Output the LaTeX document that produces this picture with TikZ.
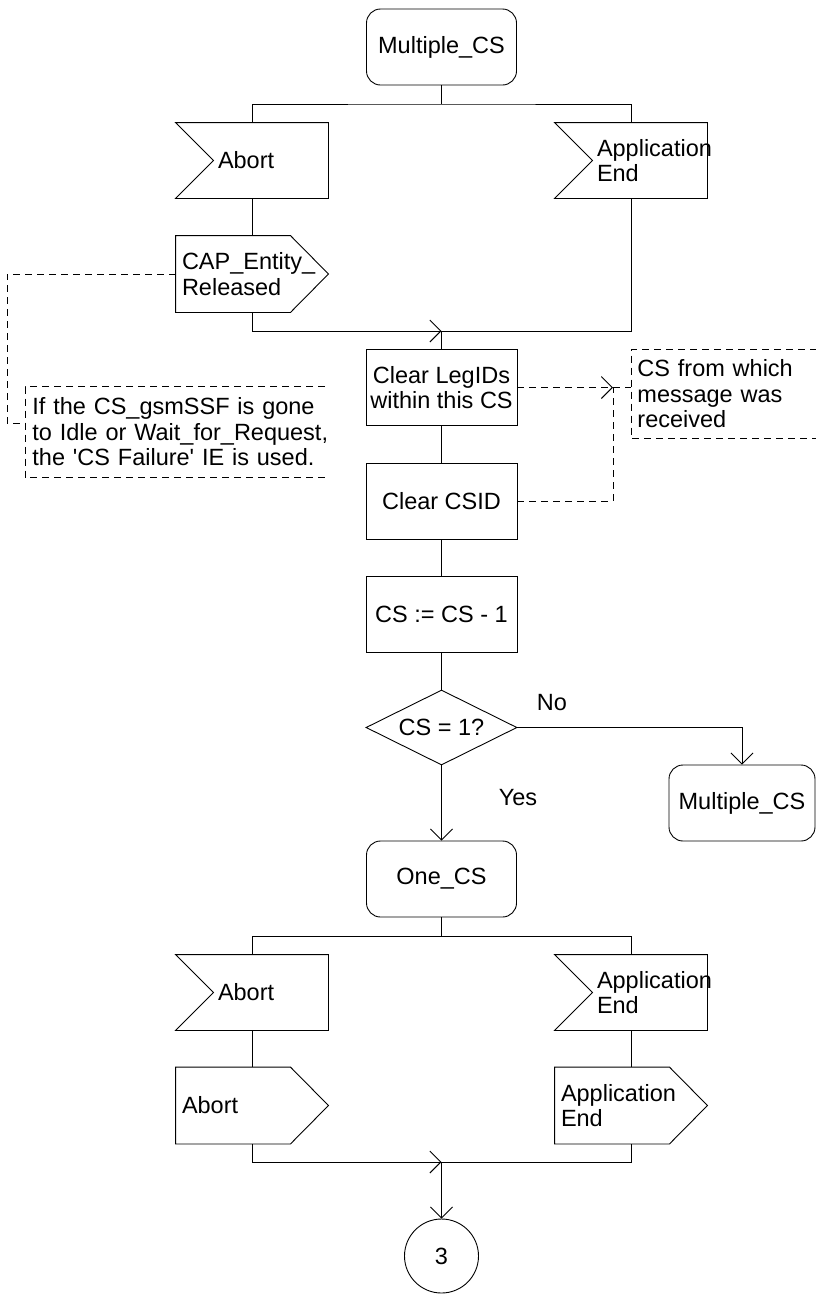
\documentclass[tikz,border=0pt]{standalone}
\usepackage{fontspec}
\setmainfont{Liberation Sans}[Ligatures=TeXOff]
\usetikzlibrary{arrows.meta,shapes.geometric}
\hyphenpenalty=10000
\tikzset{
	arr/.style={-{Straight Barb[length=11pt,width=22pt]}},
	cmtline/.style={dash pattern=on 7pt off 5pt},
	statebox/.style={draw, rounded corners=14pt, minimum width=150pt, minimum height=76pt, inner sep=0pt},
	taskbox/.style={draw, minimum width=151pt, minimum height=76pt, inner sep=0pt, align=center},
	decbox/.style={draw, diamond, aspect=2, minimum width=151pt, minimum height=75pt, inner sep=0pt},
	inbox/.style={minimum width=152pt, minimum height=75pt, text width=152pt, inner sep=0pt, align=left, execute at begin node={\leftskip=42pt\relax}},
	outbox/.style={minimum width=152pt, minimum height=76pt, text width=152pt, inner sep=0pt, align=left, execute at begin node={\leftskip=6pt\relax}},
	cmt/.style={align=left, anchor=west, inner ysep=0pt}
}
\begin{document}
\begin{tikzpicture}[x=1pt, y=-1pt, line width=0.9pt, font=\fontsize{23.5}{25.5}\selectfont]
	\useasboundingbox (0,0) rectangle (816,1294);
	\node[statebox] (st1) at (441.5,47) {Multiple\_CS};
	\coordinate (f1) at (441.5,104);
	\node[inbox] (in1) at (252,160.5) {Abort};
	\node[inbox] (in2) at (631,160.5) {Application\\End};
	\node[outbox] (cap) at (252,274) {CAP\_Entity\_\\Released};
	\coordinate (m1) at (441.5,331);
	\node[taskbox] (leg) at (441.5,387.5) {Clear LegIDs\\within this CS};
	\node[taskbox] (csid) at (441.5,501) {Clear CSID};
	\node[taskbox] (dec) at (441.5,614) {CS := CS - 1};
	\node[decbox] (dia) at (441.5,727.5) {CS = 1?};
	\node (no) at (552,703) {No};
	\node (yes) at (518,798) {Yes};
	\node[statebox, minimum width=146pt] (st2) at (742,803) {Multiple\_CS};
	\node[statebox] (st3) at (441.5,879) {One\_CS};
	\coordinate (f2) at (441.5,936);
	\node[inbox] (in3) at (252,992.5) {Abort};
	\node[inbox] (in4) at (631,992.5) {Application\\End};
	\node[outbox] (out3) at (252,1105.5) {Abort};
	\node[outbox] (out4) at (631,1105.5) {Application\\End};
	\coordinate (m2) at (441.5,1162);
	\node[draw, circle, minimum size=74pt, inner sep=0pt] (con) at (441.5,1256) {3};
	\node[cmt, text width=320pt, inner xsep=7pt, minimum height=90pt] (c1) at (25,432) {If the CS\_gsmSSF is gone\\to Idle or Wait\_for\_Request,\\the 'CS Failure' IE is used.};
	\node[cmt, text width=173pt, inner xsep=6pt, minimum height=88pt] (c2) at (631,394) {CS from which\\message was\\received};
	\coordinate (a1) at (613,387.5);
	\foreach \n in {in1,in2,in3,in4} {
		\draw (\n.north west) -- (\n.north east) -- (\n.south east) -- (\n.south west) -- ([xshift=38pt]\n.west) -- cycle;
	};
	\foreach \n in {cap,out3,out4} {
		\draw (\n.north west) -- ([xshift=-38pt]\n.north east) -- (\n.east) -- ([xshift=-38pt]\n.south east) -- (\n.south west) -- cycle;
	};
	\draw (st1.south) -- (f1);
	\draw (in1.north) |- (f1) -| (in2.north);
	\draw (in1.south) -- (cap.north);
	\draw[arr] (cap.south) |- (m1);
	\draw (in2.south) |- (m1);
	\draw (m1) -- (leg.north);
	\draw (leg) -- (csid);
	\draw (csid) -- (dec);
	\draw (dec) -- (dia);
	\draw[arr] (dia.east) -| (st2.north);
	\draw[arr] (dia.south) -- (st3.north);
	\draw (st3.south) -- (f2);
	\draw (in3.north) |- (f2) -| (in4.north);
	\draw (in3) -- (out3);
	\draw (in4) -- (out4);
	\draw[arr] (out3.south) |- (m2);
	\draw (out4.south) |- (m2);
	\draw[arr] (m2) -- (con.north);
	\draw[cmtline] ([xshift=300pt]c1.north west) -- (c1.north west) -- (c1.south west) -- ([xshift=300pt]c1.south west);
	\draw[cmtline] (c2.north east) -- (c2.north west) -- (c2.south west) -- (c2.south east);
	\draw[cmtline] (cap.west) -| ([xshift=-18pt,yshift=9pt]c1.west) -- ([yshift=9pt]c1.west);
	\draw[cmtline, arr] (leg.east) -- (a1);
	\draw[cmtline] (a1) -- (a1 -| c2.west);
	\draw[cmtline] (csid.east) -| (a1);
\end{tikzpicture}
\end{document}
